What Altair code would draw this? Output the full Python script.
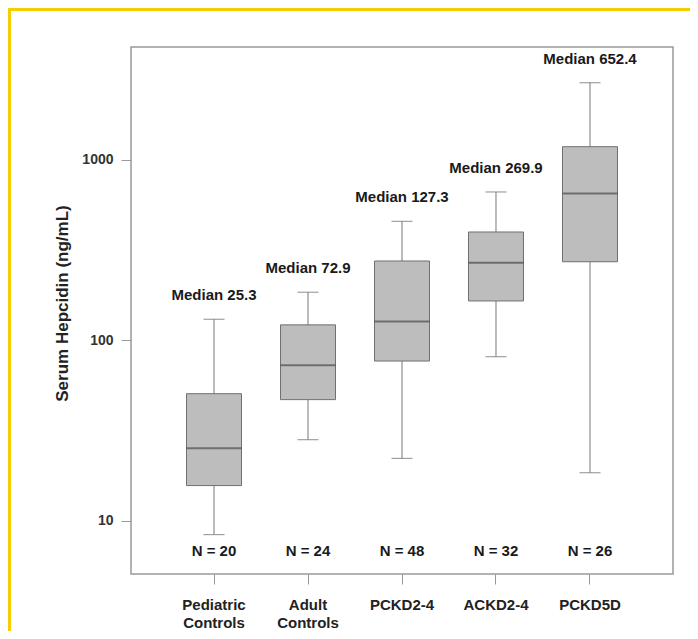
import altair as alt
import pandas as pd

categories = ["Pediatric\nControls", "Adult\nControls", "PCKD2-4", "ACKD2-4", "PCKD5D"]
whisker_low = [8.4, 28.2, 22.2, 81.3, 18.5]
q1 = [15.7, 47.0, 76.9, 165.5, 273.0]
median = [25.3, 72.9, 127.3, 269.9, 652.4]
q3 = [50.7, 122.0, 275.6, 399.0, 1185.0]
whisker_high = [131.0, 185.0, 457.0, 665.0, 2680.0]
n_counts = [20, 24, 48, 32, 26]
y_ticks = [10, 100, 1000]

df = pd.DataFrame({
    "group": categories,
    "low": whisker_low,
    "q1": q1,
    "median": median,
    "q3": q3,
    "high": whisker_high,
    "mlabel": ["Median " + str(m) for m in median],
    "nlabel": ["N = " + str(n) for n in n_counts],
})

W, H = 542, 527
FONT = "Liberation Sans"

xscale = alt.Scale(paddingInner=0.4, paddingOuter=0.583)
xenc = alt.X(
    "group:N",
    sort=categories,
    scale=xscale,
    axis=alt.Axis(
        title=None, labelAngle=0, tickSize=10, tickColor="#999999", tickWidth=1,
        labelPadding=13, labelFontSize=15, labelFontWeight="bold", labelColor="#222222",
        labelLineHeight=18, labelExpr="split(datum.label, '\\n')", domain=False,
        labelFont=FONT, labelBaseline="top",
    ),
)
xs = alt.X("group:N", sort=categories, scale=xscale)
yscale = alt.Scale(type="log", domain=[5.08, 4227], nice=False)
yaxis = alt.Axis(
    values=y_ticks, format="d", tickSize=10, tickColor="#999999", labelPadding=8,
    labelFontSize=14, labelFontWeight="bold", labelColor="#333333", labelFont=FONT,
    domain=False, grid=False, title="Serum Hepcidin (ng/mL)", titleFontSize=17,
    titleFontWeight="bold", titleColor="#222222", titleFont=FONT, titleX=-69, titleY=256,
    titleBaseline="middle", titleAlign="center", titleAngle=270,
)

base = alt.Chart(df)

whisker = base.mark_rule(color="#777777", strokeWidth=1).encode(
    x=xenc, y=alt.Y("low:Q", scale=yscale, axis=yaxis), y2="high:Q"
)
cap_low = base.mark_tick(color="#777777", size=21, thickness=1.2).encode(
    x=xs, y="low:Q"
)
cap_high = base.mark_tick(color="#777777", size=21, thickness=1.2).encode(
    x=xs, y="high:Q"
)
box = base.mark_bar(size=55, fill="#bdbdbd", stroke="#707070", strokeWidth=1).encode(
    x=xs, y="q1:Q", y2="q3:Q"
)
med = base.mark_tick(color="#4d4d4d", size=55, thickness=2).encode(
    x=xs, y="median:Q"
)
mtext = base.mark_text(
    dy=-24, fontSize=15, fontWeight="bold", font=FONT, color="#1a1a1a", baseline="middle"
).encode(x=xs, y="high:Q", text="mlabel:N")
ntext = base.mark_text(
    fontSize=15, fontWeight="bold", font=FONT, color="#1a1a1a", baseline="middle"
).encode(x=xs, y=alt.value(504), text="nlabel:N")

yl_v = base.mark_rule(color="#f7cc00", strokeWidth=3).encode(
    x=alt.value(-121.5), y=alt.value(-39), y2=alt.value(H + 57)
)
yl_h = base.mark_rule(color="#f7cc00", strokeWidth=3).encode(
    y=alt.value(-37.5), x=alt.value(-123), x2=alt.value(W + 17)
)

chart = alt.layer(
    whisker, cap_low, cap_high, box, med, mtext, ntext, yl_v, yl_h
).properties(
    width=W, height=H,
    autosize=alt.AutoSizeParams(type="none"),
    padding={"left": 123, "top": 39, "right": 17, "bottom": 57},
    background="white",
).configure_view(
    stroke="#999999", strokeWidth=1.5
)

chart.save("out.html", embed_options={"renderer": "svg", "actions": False})
